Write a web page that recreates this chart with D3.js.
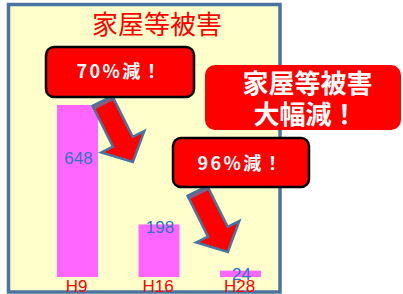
<!DOCTYPE html>
<html><head><meta charset="utf-8">
<script src="https://cdn.jsdelivr.net/npm/d3@7"></script>
<style>body{margin:0;background:#fff;}svg{display:block;}</style>
</head><body>
<script>
const categories = ["H9", "H16", "H28"];
const values = [648, 198, 24];
const titleText = "家屋等被害";
const callouts = ["70%減！", "96%減！"];
const headline = ["家屋等被害", "大幅減！"];

const W = 403, H = 294;
const svg = d3.select("body").append("svg").attr("width", W).attr("height", H);
const cjk = "'Noto Sans CJK JP','Noto Sans',sans-serif";
const lat = "Arial,'Liberation Sans',sans-serif";

// panel
svg.append("rect").attr("x", 8.5).attr("y", 4.5).attr("width", 271.5).attr("height", 287.5)
  .attr("fill", "#ffffcc").attr("stroke", "#4a74a0").attr("stroke-width", 3.5);

svg.append("text").attr("x", 157).attr("y", 34).attr("text-anchor", "middle")
  .attr("font-family", cjk).attr("font-size", 26).attr("fill", "#ff0000").text(titleText);

const x = d3.scalePoint().domain(categories).range([36.75, 281.25]).padding(0.5);
const y = d3.scaleLinear().domain([0, 648]).range([277, 105]);
const bw = 41;

svg.selectAll("rect.bar").data(values).join("rect").attr("class", "bar")
  .attr("x", (d, i) => x(categories[i]) - bw / 2).attr("width", bw)
  .attr("y", d => y(d)).attr("height", d => y(0) - y(d)).attr("fill", "#ff66ff");

svg.selectAll("text.val").data(values).join("text").attr("class", "val")
  .attr("x", (d, i) => x(categories[i]) + 1)
  .attr("y", (d, i) => y(d) + (i === 0 ? 59 : 9))
  .attr("text-anchor", "middle").attr("font-family", lat).attr("font-size", 17)
  .attr("fill", "#2f72c4").text(d => d);

svg.selectAll("text.cat").data(categories).join("text").attr("class", "cat")
  .attr("x", d => x(d) - 1).attr("y", 292).attr("text-anchor", "middle")
  .attr("font-family", lat).attr("font-size", 17).attr("fill", "#ff0000").text(d => d);

// block arrows
function arrow(tx, ty) {
  const g = svg.append("g").attr("transform", `translate(${tx},${ty}) rotate(63.5)`);
  const p = d3.path();
  p.moveTo(0, -11); p.lineTo(45.5, -11); p.lineTo(45.5, -24); p.lineTo(68, 0);
  p.lineTo(45.5, 24); p.lineTo(45.5, 11); p.lineTo(0, 11); p.closePath();
  g.append("path").attr("d", p.toString()).attr("fill", "#ff0000")
    .attr("stroke", "#4a74a0").attr("stroke-width", 2.5).attr("stroke-linejoin", "miter");
  g.append("rect").attr("x", -1).attr("y", -12).attr("width", 5).attr("height", 24).attr("fill", "#4a74a0");
  g.append("line").attr("x1", 2.5).attr("x2", 2.5).attr("y1", -9).attr("y2", 9)
    .attr("stroke", "#ff3030").attr("stroke-width", 0.8);
}
arrow(102.5, 101);
arrow(197.5, 191);

// callout boxes
const boxes = [{x: 46, y: 47, w: 148, h: 50, cx: 118.5, cy: 72}, {x: 173, y: 138, w: 136, h: 49, cx: 239.5, cy: 163.5}];
boxes.forEach((b, i) => {
  svg.append("rect").attr("x", b.x).attr("y", b.y).attr("width", b.w).attr("height", b.h)
    .attr("rx", 8).attr("fill", "#ff0000").attr("stroke", "#000").attr("stroke-width", 2.5);
  svg.append("text").attr("x", b.cx + 1.2).attr("y", b.cy).attr("dy", "0.36em").attr("text-anchor", "middle")
    .attr("font-family", cjk).attr("font-weight", "bold").attr("font-size", 18)
    .attr("letter-spacing", 2.4).attr("fill", "#fff").text(callouts[i]);
});

svg.append("rect").attr("x", 205).attr("y", 65).attr("width", 196).attr("height", 65)
  .attr("rx", 10).attr("fill", "#ff0000");
headline.forEach((t, i) => {
  svg.append("text").attr("x", i === 0 ? 307.5 : 305.5).attr("y", i === 0 ? 84 : 114.5)
    .attr("dy", "0.36em").attr("text-anchor", "middle").attr("font-family", cjk)
    .attr("font-weight", "bold").attr("font-size", 26).attr("fill", "#fff").text(t);
});
</script>
</body></html>
